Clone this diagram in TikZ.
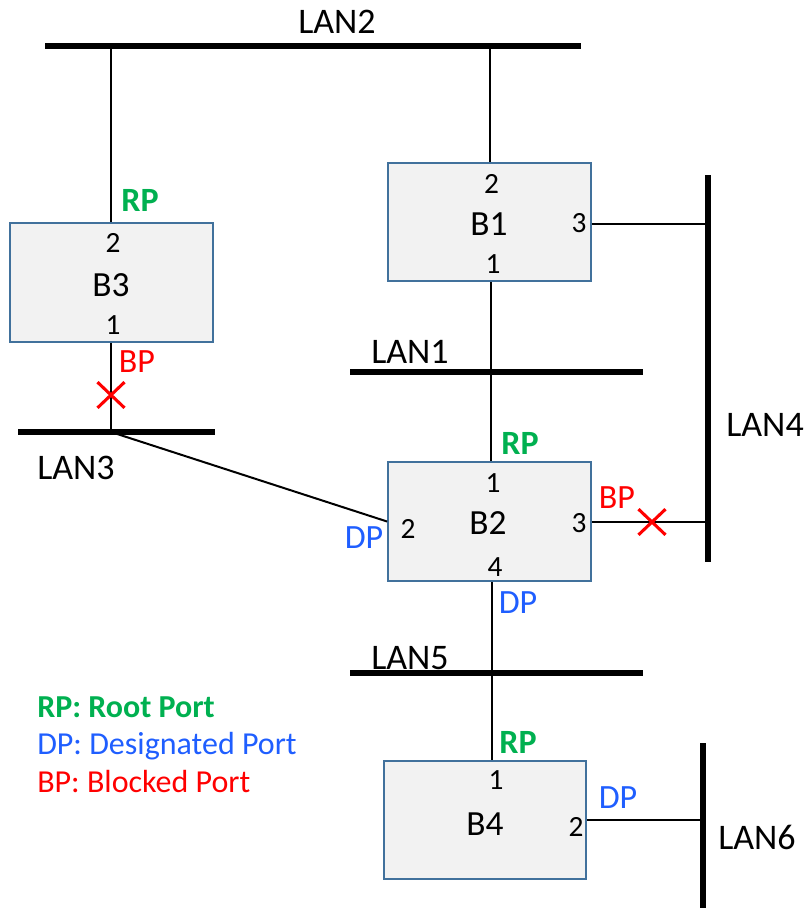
\documentclass[tikz,border=0pt]{standalone}
\usepackage{fontspec}
\setmainfont{Carlito}
\usetikzlibrary{shapes.misc}
\definecolor{rpgreen}{RGB}{0,176,80}
\definecolor{dpblue}{RGB}{31,94,255}
\definecolor{bpred}{RGB}{255,0,0}
\definecolor{boxedge}{RGB}{65,113,156}
\definecolor{boxfill}{RGB}{242,242,242}
\tikzset{
  bridge/.style={draw=boxedge, fill=boxfill, line width=1.6pt, inner sep=0pt, minimum width=152pt, minimum height=89pt},
  brname/.style={inner sep=0pt, font=\fontsize{26.5}{30}\selectfont},
  bus/.style={line width=4.5pt},
  link/.style={line width=1.5pt},
  portnum/.style={inner sep=0pt, font=\fontsize{22}{26}\selectfont},
  lanlbl/.style={inner sep=0pt, font=\fontsize{27}{32}\selectfont},
  rplbl/.style={inner sep=0pt, text=rpgreen, font=\fontsize{25.5}{30}\selectfont\bfseries},
  dplbl/.style={inner sep=0pt, text=dpblue, font=\fontsize{25.5}{30}\selectfont},
  bplbl/.style={inner sep=0pt, text=bpred, font=\fontsize{25.5}{30}\selectfont},
  blockmark/.style={cross out, draw=bpred, line width=2.3pt, inner sep=0pt, minimum width=18pt, minimum height=17pt},
  legend/.style={inner sep=0pt, anchor=base west, font=\fontsize{24}{28}\selectfont}
}
\begin{document}
\begin{tikzpicture}[x=0.75pt, y=-0.75pt]
\useasboundingbox (0,0) rectangle (806,908);

% LAN buses
\coordinate (L2a) at (45,46);  \coordinate (L2b) at (581,46);
\coordinate (L1a) at (350,372); \coordinate (L1b) at (643,372);
\coordinate (L3a) at (18,432); \coordinate (L3b) at (215,432);
\coordinate (L4a) at (708,175); \coordinate (L4b) at (708,562);
\coordinate (L5a) at (350,673); \coordinate (L5b) at (643,673);
\coordinate (L6a) at (703,743); \coordinate (L6b) at (703,910);
\draw[bus] (L2a) -- (L2b);
\draw[bus] (L1a) -- (L1b);
\draw[bus] (L3a) -- (L3b);
\draw[bus] (L4a) -- (L4b);
\draw[bus] (L5a) -- (L5b);
\draw[bus] (L6a) -- (L6b);

\node[lanlbl] (t2) at (337,22) {LAN2};
\node[lanlbl] (t1) at (410,352) {LAN1};
\node[lanlbl] (t3) at (76,468) {LAN3};
\node[lanlbl] (t4) at (765,425) {LAN4};
\node[lanlbl] (t5) at (410,658) {LAN5};
\node[lanlbl] (t6) at (757,837) {LAN6};

% Bridges
\node[bridge] (B3) at (111.5,282.5) {};
\node[bridge] (B1) at (489.5,222) {};
\node[bridge] (B2) at (489.5,521.5) {};
\node[bridge] (B4) at (485,820) {};

% bus tap points
\coordinate (tapB3up) at (111,46);
\coordinate (tapB3dn) at (111,432);
\coordinate (tapB1up) at (490,46);
\coordinate (tapB1rt) at (708,224);
\coordinate (tapL1) at (491,372);
\coordinate (tapB2rt) at (708,522);
\coordinate (tapL5) at (492,673);
\coordinate (tapB4rt) at (703,820);

% links
\draw[link] (tapB3up) -- (tapB3up |- B3.north);
\draw[link] (tapB3dn |- B3.south) -- (tapB3dn);
\draw[link] (tapB3dn) -- (B2.west);
\draw[link] (tapB1up) -- (tapB1up |- B1.north);
\draw[link] (B1.east |- tapB1rt) -- (tapB1rt);
\draw[link] (tapL1 |- B1.south) -- (tapL1 |- B2.north);
\draw[link] (B2.east |- tapB2rt) -- (tapB2rt);
\draw[link] (tapL5 |- B2.south) -- (tapL5 |- B4.north);
\draw[link] (B4.east |- tapB4rt) -- (tapB4rt);

% blocked marks
\node[blockmark] (x3) at (111,395) {};
\node[blockmark] (x2) at (652,522) {};

% bridge texts
\node[brname] (n3) at (111,285) {B3};
\node[brname] (n1) at (489,224.5) {B1};
\node[brname] (n2) at (488,523) {B2};
\node[brname] (n4) at (485,824) {B4};

\node[portnum] (p32) at (113,243) {2};
\node[portnum] (p31) at (113,325) {1};
\node[portnum] (p12) at (491.5,184) {2};
\node[portnum] (p11) at (493,264) {1};
\node[portnum] (p13) at (579,223) {3};
\node[portnum] (p21) at (493,483) {1};
\node[portnum] (p22) at (408,529) {2};
\node[portnum] (p23) at (579,523) {3};
\node[portnum] (p24) at (495,567) {4};
\node[portnum] (p41) at (496,780) {1};
\node[portnum] (p42) at (576,827) {2};

% port roles
\node[rplbl] (r3) at (140,200) {RP};
\node[bplbl] (b3) at (137,362) {BP};
\node[rplbl] (r2) at (520,443) {RP};
\node[bplbl] (b2) at (617,498) {BP};
\node[dplbl] (d2l) at (364,538) {DP};
\node[dplbl] (d2b) at (518,603) {DP};
\node[rplbl] (r4) at (518,742) {RP};
\node[dplbl] (d4) at (618,798) {DP};

% legend
\node[legend, text=rpgreen, font=\fontsize{24}{28}\selectfont\bfseries] (lg1) at (37,717) {RP: Root Port};
\node[legend, text=dpblue] (lg2) at (37,754) {DP: Designated Port};
\node[legend, text=bpred] (lg3) at (37,792) {BP: Blocked Port};
\end{tikzpicture}
\end{document}
